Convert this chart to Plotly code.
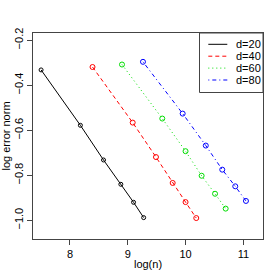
import plotly.graph_objects as go

x_d20 = [7.50, 8.18, 8.58, 8.88, 9.10, 9.275]
y_d20 = [-0.332, -0.578, -0.732, -0.840, -0.920, -0.988]
x_d40 = [8.39, 9.085, 9.488, 9.777, 10.00, 10.185]
y_d40 = [-0.319, -0.566, -0.719, -0.834, -0.919, -0.990]
x_d60 = [8.90, 9.597, 10.00, 10.278, 10.51, 10.694]
y_d60 = [-0.308, -0.548, -0.693, -0.802, -0.882, -0.948]
x_d80 = [9.263, 9.95, 10.35, 10.635, 10.86, 11.045]
y_d80 = [-0.296, -0.526, -0.668, -0.775, -0.849, -0.914]

names = ["d=20", "d=40", "d=60", "d=80"]
colors = ["black", "#ff0000", "#00dd00", "#0000ff"]
dashes = ["solid", "4px,3px", "1px,3px", "1px,3px,4px,3px"]
msizes = [4, 5, 5, 5]
xs = [x_d20, x_d40, x_d60, x_d80]
ys = [y_d20, y_d40, y_d60, y_d80]

W, H = 280, 280
ML, MR, MT, MB = 33, 17, 33, 41
PW, PH = W - ML - MR, H - MT - MB

def px(xp):
    return (xp - ML) / PW

def py(yp):
    return 1 - (yp - MT) / PH

fig = go.Figure()
for n, c, d, x, y, ms in zip(names, colors, dashes, xs, ys, msizes):
    fig.add_trace(go.Scatter(
        x=x, y=y, name=n, mode="lines", showlegend=False,
        line=dict(color=c, width=1, dash=d),
    ))
    fig.add_trace(go.Scatter(
        x=x, y=y, name=n, mode="markers", showlegend=False,
        marker=dict(symbol="circle-open", size=ms, color=c, line=dict(width=1, color=c)),
    ))

# legend box (R-style) drawn in paper coordinates
fig.add_shape(type="rect", xref="paper", yref="paper",
              x0=px(199.5), x1=1, y0=py(92.5), y1=1,
              line=dict(color="#444", width=1), fillcolor="white", layer="above")
for i, (n, c, d) in enumerate(zip(names, colors, dashes)):
    yy = py(44.3 + 11.9 * i)
    fig.add_shape(type="line", xref="paper", yref="paper",
                  x0=px(208.3), x1=px(227.3), y0=yy, y1=yy,
                  line=dict(color=c, width=1, dash=d), layer="above")
    fig.add_annotation(xref="paper", yref="paper", x=px(234), y=yy,
                       text=n, showarrow=False, xanchor="left", yanchor="middle",
                       font=dict(size=11, color="black"))

axis_common = dict(
    showgrid=False, zeroline=False, showline=True, mirror=True, automargin=False,
    linecolor="#444", linewidth=1, ticks="outside", ticklen=5,
    tickcolor="#444", tickfont=dict(size=11, color="black"),
)
fig.update_layout(
    width=W, height=H,
    margin=dict(l=ML, r=MR, t=MT, b=MB),
    paper_bgcolor="white", plot_bgcolor="white",
    font=dict(family="Liberation Sans, Arial", size=11, color="black"),
    xaxis=dict(range=[7.36, 11.34], tickvals=[8, 9, 10, 11],
               title=dict(text="log(n)", standoff=1, font=dict(size=11)), **axis_common),
    yaxis=dict(range=[-1.083, -0.168], tickvals=[-1.0, -0.8, -0.6, -0.4, -0.2],
               ticktext=["−1.0", "−0.8", "−0.6", "−0.4", "−0.2"], tickangle=-90,
               title=dict(text="log error norm", standoff=2, font=dict(size=11)), **axis_common),
    showlegend=False,
)
fig.write_html("out.html", config={"displayModeBar": False},
               post_script="document.body.style.margin='0';")
